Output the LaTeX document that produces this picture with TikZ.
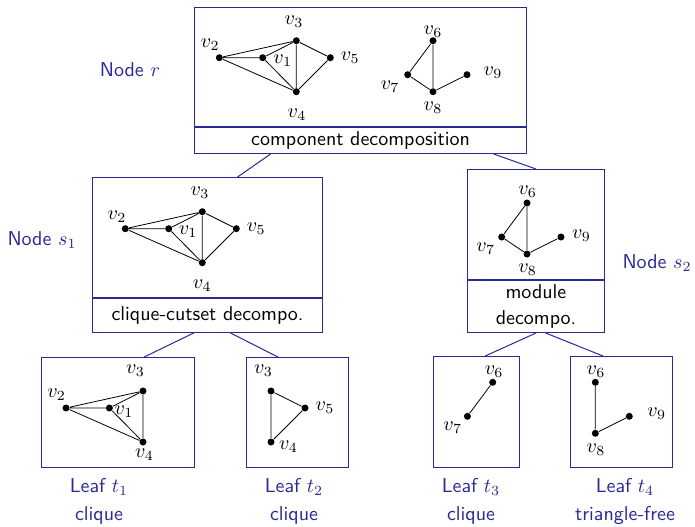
\documentclass[tikz,border=0pt]{standalone}
\usepackage{amsmath}
\usepackage{tikz}
\usetikzlibrary{positioning,calc}
\definecolor{azul}{RGB}{40,40,150}

\begin{document}
\begin{tikzpicture}[x=0.5pt,y=-0.5pt,
    caja/.style={draw=azul, line width=0.5pt, inner sep=0pt, anchor=north west, font=\sffamily},
    vtx/.style={circle, fill=black, inner sep=0pt, minimum size=3.5pt},
    etq/.style n args={3}{label={[inner sep=0pt, xshift=#1pt, yshift=#2pt]center:$v_{#3}$}},
    arista/.style={black, line width=0.4pt},
    enlace/.style={azul, line width=0.5pt},
    rotulo/.style={azul, font=\sffamily, align=center}]
    \useasboundingbox (0,0) rectangle (695,526);
    % Cajas del arbol
    \node[caja, minimum width=166pt, minimum height=59.5pt] (r) at (194,7) {};
    \node[caja, minimum width=166pt, minimum height=13pt, below=0pt of r] (rd) {component decomposition};
    \node[caja, minimum width=115pt, minimum height=60pt] (s1) at (92,177) {};
    \node[caja, minimum width=115pt, minimum height=17pt, below=0pt of s1] (s1d) {clique-cutset decompo.};
    \node[caja, minimum width=68.5pt, minimum height=55pt] (s2) at (467,169) {};
    \node[caja, minimum width=68.5pt, minimum height=26pt, below=0pt of s2, align=center] (s2d) {module\\[1pt]decompo.};
    \node[caja, minimum width=76.5pt, minimum height=55pt] (t1) at (41,357) {};
    \node[caja, minimum width=51pt, minimum height=55pt] (t2) at (246,357) {};
    \node[caja, minimum width=43pt, minimum height=55.5pt] (t3) at (433,356) {};
    \node[caja, minimum width=51pt, minimum height=55.5pt] (t4) at (570,356) {};
    % Rotulos
    \node[rotulo] (nr) at (130,70) {Node $r$};
    \node[rotulo] (ns1) at (42,240) {Node $s_1$};
    \node[rotulo] (ns2) at (657,263) {Node $s_2$};
    \node[rotulo] (lt1) at (99,501) {Leaf $t_1$\\[2pt]clique};
    \node[rotulo] (lt2) at (294,501) {Leaf $t_2$\\[2pt]clique};
    \node[rotulo] (lt3) at (471,501) {Leaf $t_3$\\[2pt]clique};
    \node[rotulo] (lt4) at (625,501) {Leaf $t_4$\\[2pt]triangle-free};
    % Enlaces entre cajas
    \draw[enlace] ($(rd.south west)!0.23!(rd.south east)$) -- ($(s1.north west)!0.63!(s1.north east)$);
    \draw[enlace] ($(rd.south west)!0.9!(rd.south east)$) -- (s2.north);
    \draw[enlace] ($(s1d.south west)!0.44!(s1d.south east)$) -- ($(t1.north west)!0.67!(t1.north east)$);
    \draw[enlace] ($(s1d.south west)!0.6!(s1d.south east)$) -- ($(t2.north west)!0.31!(t2.north east)$);
    \draw[enlace] (s2d.south) -- ($(t3.north west)!0.6!(t3.north east)$);
    \draw[enlace] ($(s2d.south west)!0.57!(s2d.south east)$) -- ($(t4.north west)!0.32!(t4.north east)$);
    % Grafo del nodo r
    \node[vtx, etq={10}{-1.7}{1}] (r1) at (262.7,57.7) {};
    \node[vtx, etq={-4.5}{6.5}{2}] (r2) at (219.3,57.7) {};
    \node[vtx, etq={-1.2}{9.3}{3}] (r3) at (296.3,40.7) {};
    \node[vtx, etq={0.3}{-11.6}{4}] (r4) at (296.3,91.7) {};
    \node[vtx, etq={10}{0}{5}] (r5) at (330.3,57.7) {};
    \node[vtx, etq={0}{4.5}{6}] (r6) at (433,40.7) {};
    \node[vtx, etq={-8.8}{-6.2}{7}] (r7) at (407.7,74.7) {};
    \node[vtx, etq={0}{-8.2}{8}] (r8) at (433,91.7) {};
    \node[vtx, etq={13}{1.2}{9}] (r9) at (467,74.7) {};
    \draw[arista] (r2) -- (r3) (r2) -- (r1) (r2) -- (r4) (r1) -- (r3) (r1) -- (r4)
        (r3) -- (r4) (r3) -- (r5) (r5) -- (r4);
    \draw[arista] (r6) -- (r7) (r6) -- (r8) (r7) -- (r8) (r8) -- (r9);
    % Grafo del nodo s1
    \begin{scope}[shift={(-94,171)}]
        \node[vtx, etq={9.7}{-1.4}{1}] (a1) at (262.7,57.7) {};
        \node[vtx, etq={-4.2}{6.2}{2}] (a2) at (219.3,57.7) {};
        \node[vtx, etq={-1.2}{9.5}{3}] (a3) at (296.3,40.7) {};
        \node[vtx, etq={0}{-11.6}{4}] (a4) at (296.3,91.7) {};
        \node[vtx, etq={10}{0}{5}] (a5) at (330.3,57.7) {};
        \draw[arista] (a2) -- (a3) (a2) -- (a1) (a2) -- (a4) (a1) -- (a3) (a1) -- (a4)
            (a3) -- (a4) (a3) -- (a5) (a5) -- (a4);
    \end{scope}
    % Grafo del nodo s2
    \begin{scope}[shift={(94,162.3)}]
        \node[vtx, etq={0.3}{5.6}{6}] (b6) at (433,40.7) {};
        \node[vtx, etq={-8}{-6}{7}] (b7) at (407.7,74.7) {};
        \node[vtx, etq={0.3}{-7.8}{8}] (b8) at (433,91.7) {};
        \node[vtx, etq={10.2}{0.5}{9}] (b9) at (467,74.7) {};
        \draw[arista] (b6) -- (b7) (b6) -- (b8) (b7) -- (b8) (b8) -- (b9);
    \end{scope}
    % Hoja t1
    \begin{scope}[shift={(-153.3,350.3)}]
        \node[vtx, etq={7.3}{-1.8}{1}] (c1) at (262.7,57.7) {};
        \node[vtx, etq={-4.7}{6.5}{2}] (c2) at (219.3,57.7) {};
        \node[vtx, etq={-3.8}{10}{3}] (c3) at (296.3,40.7) {};
        \node[vtx, etq={0.7}{-6.5}{4}] (c4) at (296.3,91.7) {};
        \draw[arista] (c2) -- (c1) (c2) -- (c3) (c2) -- (c4) (c1) -- (c3) (c1) -- (c4) (c3) -- (c4);
    \end{scope}
    % Hoja t2
    \begin{scope}[shift={(-25.3,350.3)}]
        \node[vtx, etq={-3.8}{10}{3}] (d3) at (296.3,40.7) {};
        \node[vtx, etq={8.7}{-2.3}{4}] (d4) at (296.3,91.7) {};
        \node[vtx, etq={10}{0}{5}] (d5) at (330.3,57.7) {};
        \draw[arista] (d3) -- (d4) (d3) -- (d5) (d5) -- (d4);
    \end{scope}
    % Hoja t3
    \begin{scope}[shift={(59.7,341.6)}]
        \node[vtx, etq={0.7}{5.3}{6}] (e6) at (433,40.7) {};
        \node[vtx, etq={-7.3}{-5.5}{7}] (e7) at (407.7,74.7) {};
        \draw[arista] (e6) -- (e7);
    \end{scope}
    % Hoja t4
    \begin{scope}[shift={(162.3,341.6)}]
        \node[vtx, etq={0.3}{5.3}{6}] (f6) at (433,40.7) {};
        \node[vtx, etq={0.3}{-8}{8}] (f8) at (433,91.7) {};
        \node[vtx, etq={13.7}{1.2}{9}] (f9) at (467,74.7) {};
        \draw[arista] (f6) -- (f8) (f8) -- (f9);
    \end{scope}
\end{tikzpicture}
\end{document}
